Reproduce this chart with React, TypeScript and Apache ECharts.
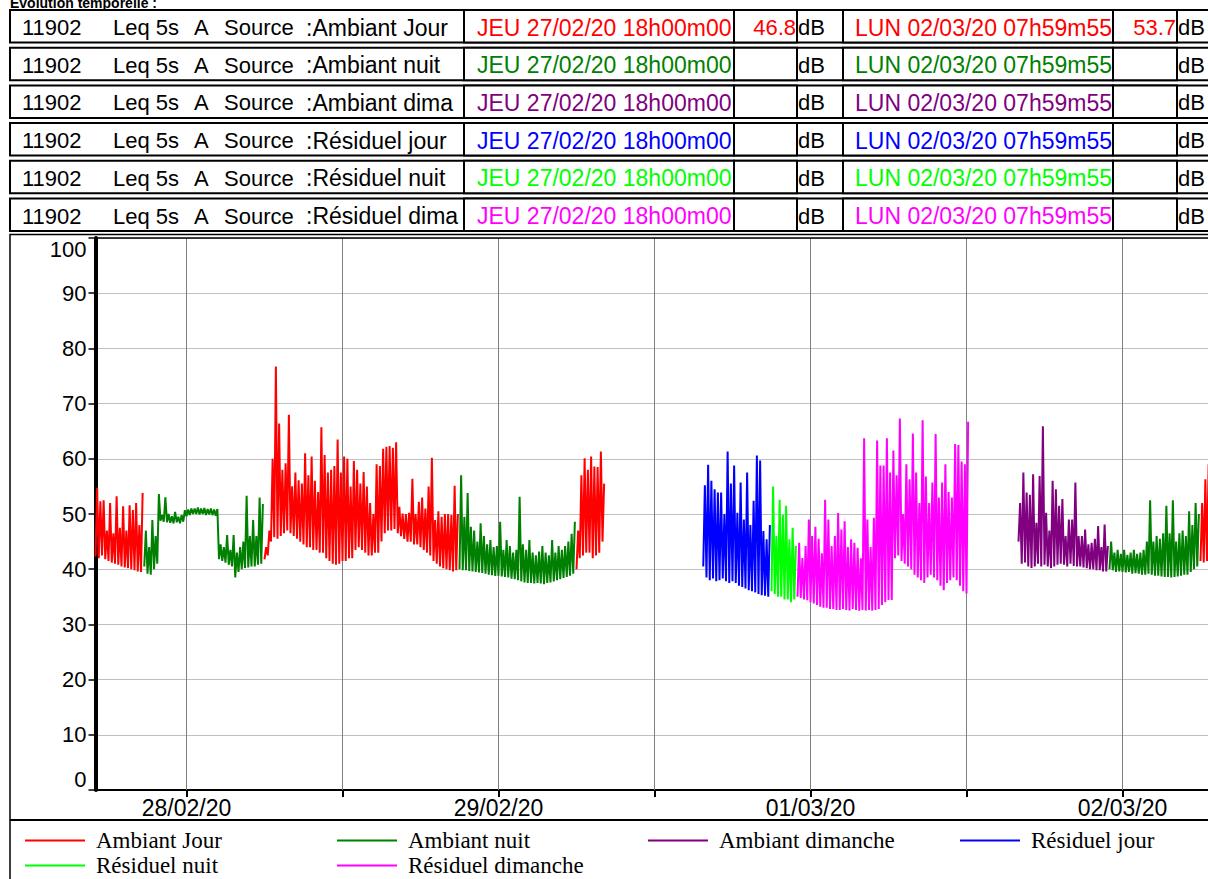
import React, { useEffect, useRef } from 'react';
import * as echarts from 'echarts';

// ---------- DATA ----------
// x = hours since JEU 27/02/20 18h00m00 ; bins of 15 min, each bin: lowest then highest level (dB(A))
const BIN_HOURS = 0.25;
const X_MAX_HOURS = 86;

const SERIES_NAMES = ['Ambiant Jour', 'Ambiant nuit', 'Ambiant dimanche', 'Résiduel jour', 'Résiduel nuit', 'Résiduel dimanche'];
const SERIES_COLORS = ['#FF0000', '#008000', '#800080', '#0000FF', '#00FF00', '#FF00FF'];

// Ambiant Jour, 27/02 18h00 -> 21h45
const jour1Low = [42.3, 42.0, 42.5, 41.8, 41.5, 41.2, 41.0, 40.8, 40.5, 40.3, 40.2, 40.0, 39.8, 39.6, 39.5];
const jour1High = [54.7, 52.3, 52.5, 47, 52, 46.5, 53.2, 47.5, 51.4, 47, 51.6, 50.7, 52, 48, 53.8];
// Ambiant nuit, 27/02 21h45 -> 28/02 07h00
const nuit1Low = [40.5, 39.2, 39, 40, 41, 48.8, 48.6, 48.5, 48.4, 48.3, 48.5, 48.3, 48.6, 49.6, 49.8, 50, 50, 49.9, 50, 49.8, 49.9, 49.8, 49.7, 41.8, 41.5, 41.2, 40.8, 40.5, 38.5, 39.5, 40, 40.2, 40.3, 40.5, 40.5, 40.8, 41];
const nuit1High = [47, 44, 48.9, 46, 53.6, 49.8, 53, 50, 49.6, 50.4, 49.5, 49.8, 50.7, 50.8, 51, 51, 51.2, 51, 51.1, 50.9, 51, 50.8, 50.9, 44.5, 44, 46.2, 43.5, 46.2, 43, 44, 45, 53.3, 46, 48.9, 46, 53, 51.8];
// Ambiant Jour, 28/02 07h00 -> 22h00
const jour2Low = [41.8, 42.5, 45, 45.8, 45.5, 46, 46.5, 47, 46.5, 46, 45.5, 45, 44.5, 44, 44, 43.5, 43.5, 43, 43, 42, 41.5, 41, 40.8, 41, 41.5, 41.5, 42, 42, 43.5, 44, 43.5, 43, 42.5, 42.5, 43, 43, 45, 46.5, 47, 47, 47.3, 46.5, 46, 45.5, 45, 45, 44.5, 44.5, 44, 43.5, 43, 42.5, 41.5, 41, 40.5, 40.2, 40, 39.8, 39.6, 39.8];
const jour2High = [44, 47, 60, 76.7, 66.4, 58, 59.2, 68, 55, 57.5, 56.1, 55.5, 61, 57, 60.4, 56, 54, 65.7, 60.7, 57.5, 58, 58.7, 63.5, 57.5, 60.4, 60, 55, 59.6, 58, 55.5, 57.6, 55, 52, 50, 59, 58.7, 61.8, 62.2, 62.3, 62, 63, 51.3, 50.1, 50, 50.2, 56.4, 50, 52.2, 53, 51, 55, 60.2, 48.9, 50.5, 49.5, 50, 50, 49.8, 55.1, 50];
// Ambiant nuit, 28/02 22h00 -> 29/02 07h00
const nuit2Low = [40, 39.8, 39.8, 39.7, 39.6, 39.5, 39.4, 39.3, 39.2, 39, 38.9, 38.8, 38.8, 38.7, 38.6, 38.5, 38.3, 38.2, 38, 37.8, 37.6, 37.5, 37.5, 37.4, 37.5, 37.4, 37.3, 37.5, 37.6, 37.8, 38, 38.2, 38.4, 38.6, 38.8, 39.2];
const nuit2High = [57, 49.5, 53.8, 47.7, 47, 45, 48.3, 46, 44.5, 45.3, 44, 44.2, 48.6, 43.5, 45.3, 44.2, 43, 43.5, 53.1, 44.5, 43.5, 45.3, 43, 42.5, 43.2, 44.2, 43, 42.5, 45.3, 43, 44.2, 43.5, 44.2, 45, 46.4, 48.6];
// Ambiant Jour, 29/02 07h00 -> 09h15
const jour3Low = [40, 42, 42.5, 43, 43, 42, 42.5, 43, 45];
const jour3High = [47, 57, 60.1, 58, 60.4, 58.6, 58.5, 61.3, 55.5];
// Résiduel jour, 29/02 16h45 -> 22h00
const resJourLow = [40.5, 38.5, 38, 38.3, 37.8, 38, 38.3, 37.8, 37.5, 37.8, 37.5, 37, 36.8, 36.5, 36.2, 36, 35.8, 35.5, 35.3, 35.2, 35];
const resJourHigh = [55.2, 58.9, 56, 54.5, 53.9, 53.9, 50, 61.3, 55.5, 58.8, 50.2, 55.7, 49, 57.5, 48, 52.4, 60.6, 59.7, 46.9, 45.4, 48];
// Résiduel nuit, 29/02 22h00 -> 01/03 00h00
const resNuitLow = [36, 35.5, 35, 35, 34.5, 34.5, 34, 34.5];
const resNuitHigh = [55, 46, 52.6, 49.8, 51.5, 45.4, 47.5, 44.2];
// Résiduel dimanche, 01/03 00h00 -> 13h15
const resDimLow = [35, 34.8, 34.5, 34.4, 34, 33.8, 33.5, 33.2, 33, 33, 32.8, 32.8, 32.6, 32.6, 32.8, 32.6, 32.5, 32.8, 32.6, 32.5, 32.6, 32.5, 32.6, 32.5, 32.6, 32.8, 33.5, 34, 34.4, 34.4, 42, 42.5, 41.5, 41, 40.5, 40, 39, 38.5, 38, 37.5, 38.5, 39, 38.5, 38, 37, 36.2, 37.5, 38, 38.5, 38, 37, 36, 35.6];
const resDimHigh = [44.8, 42, 44.2, 49, 46, 47.7, 45.5, 42.9, 52.6, 49, 44.2, 46, 50.2, 47.2, 48.7, 44, 45.4, 44.8, 43.9, 42, 63.7, 49, 44, 49.3, 63.3, 58.8, 58.8, 63.7, 57.5, 61.5, 57, 67.3, 50, 59, 56.3, 64.6, 57.5, 52, 67, 56.8, 52, 55.7, 64.5, 53, 55.7, 59, 54, 53, 62.7, 62.5, 59.5, 59, 66.7];
// Ambiant dimanche, 01/03 17h00 -> 02/03 00h00
const ambDimLow = [45, 41, 41.2, 40.5, 40.2, 40.5, 41, 40.5, 40.8, 40.5, 40.2, 40.5, 40.8, 41, 40.8, 40.5, 41, 40.6, 40.5, 40.5, 40.3, 40.2, 40, 40, 39.8, 39.8, 39.6, 39.6];
const ambDimHigh = [52, 57.5, 53.9, 53.5, 57.2, 48.4, 56.9, 65.9, 50.2, 47, 56, 54.5, 51.5, 52.7, 46, 49, 49, 55.7, 46, 46, 47.2, 44.5, 44.8, 45.5, 47.8, 44, 48.1, 44.2];
// Ambiant nuit, 02/03 00h00 -> 07h00
const nuit3Low = [40, 39.8, 39.5, 39.6, 39.5, 39.4, 39.5, 39.2, 39.3, 39.2, 39, 39, 39.2, 39, 38.8, 38.8, 38.7, 38.6, 38.6, 38.5, 38.6, 38.7, 38.8, 39, 39, 39.5, 40, 40.5];
const nuit3High = [45, 43, 43.5, 42.8, 43.5, 42.6, 43, 43.5, 42.8, 43, 43.5, 45, 52.5, 45, 46, 45.5, 46.5, 51.5, 46.5, 52.5, 45, 46.5, 47, 46, 50.5, 48, 52, 50];
// Ambiant Jour, 02/03 07h00 -> 08h00
const jour4Low = [41.5, 41.2, 41.5, 42];
const jour4High = [52, 56.3, 59, 58];

const SEGMENTS = [
  { series: 0, start: 0, low: jour1Low, high: jour1High },
  { series: 1, start: 3.75, low: nuit1Low, high: nuit1High },
  { series: 0, start: 13, low: jour2Low, high: jour2High },
  { series: 1, start: 28, low: nuit2Low, high: nuit2High },
  { series: 0, start: 37, low: jour3Low, high: jour3High },
  { series: 3, start: 46.75, low: resJourLow, high: resJourHigh },
  { series: 4, start: 52, low: resNuitLow, high: resNuitHigh },
  { series: 5, start: 54, low: resDimLow, high: resDimHigh },
  { series: 2, start: 71, low: ambDimLow, high: ambDimHigh },
  { series: 1, start: 78, low: nuit3Low, high: nuit3High },
  { series: 0, start: 85, low: jour4Low, high: jour4High },
];

const Y_MIN = 0;
const Y_MAX = 100;
const Y_STEP = 10;
const TICK_HOURS = [7, 19, 31, 43, 55, 67, 79];
const LABEL_HOURS = [7, 31, 55, 79];
const LABEL_TEXTS = ['28/02/20', '29/02/20', '01/03/20', '02/03/20'];

// header table
const TITLE = 'Evolution temporelle :';
const ROW_ID = '11902';
const ROW_METRIC = 'Leq 5s';
const ROW_WEIGHT = 'A';
const ROW_SOURCE_PREFIX = 'Source';
const ROW_SOURCES = ['Ambiant Jour', 'Ambiant nuit', 'Ambiant dimanche', 'Résiduel jour', 'Résiduel nuit', 'Résiduel dimanche'];
const START_TEXT = 'JEU 27/02/20 18h00m00';
const END_TEXT = 'LUN 02/03/20 07h59m55';
const START_VALUES = ['46.8', '', '', '', '', ''];
const END_VALUES = ['53.7', '', '', '', '', ''];
const UNIT = 'dB';

// ---------- BUILD ----------
function buildData(idx: number) {
  const out: any[] = [];
  SEGMENTS.filter((s) => s.series === idx).forEach((s) => {
    s.low.forEach((lo, i) => {
      const t = s.start + i * BIN_HOURS;
      out.push([t, lo]);
      out.push([t + BIN_HOURS / 2, s.high[i]]);
    });
    out.push([s.start + s.low.length * BIN_HOURS, null]);
  });
  return out;
}

const SANS = '"Liberation Sans", Arial, sans-serif';
const SERIF = '"Liberation Serif", "Times New Roman", serif';

function txt(text: string, x: number, y: number, opts: any = {}) {
  const style: any = {
    text,
    fill: opts.fill || '#000',
    fontSize: opts.fontSize || 22,
    fontFamily: opts.fontFamily || SANS,
    fontWeight: opts.fontWeight || 'normal',
    align: opts.align || 'left',
    textAlign: opts.align || 'left',
    verticalAlign: opts.verticalAlign || 'middle',
    textVerticalAlign: opts.verticalAlign || 'middle',
  };
  if (opts.width) {
    style.width = opts.width;
    style.overflow = 'truncate';
    style.ellipsis = '';
  }
  return { type: 'text', x, y, silent: true, style };
}

function rect(x: number, y: number, w: number, h: number, lw = 2, fill = '#fff') {
  return {
    type: 'rect',
    silent: true,
    shape: { x, y, width: w, height: h },
    style: { fill, stroke: '#000', lineWidth: lw },
  };
}

function buildGraphic() {
  const els: any[] = [];
  els.push(txt(TITLE, 10, 9.5, { fontSize: 14, fontWeight: 'bold', verticalAlign: 'bottom' }));
  ROW_SOURCES.forEach((src, i) => {
    const top = 10 + 37.7 * i;
    const cy = top + 17.5;
    const color = SERIES_COLORS[i];
    els.push(rect(10, top, 1240, 32.5));
    els.push(txt(ROW_ID, 22, cy));
    els.push(txt(ROW_METRIC, 113, cy));
    els.push(txt(ROW_WEIGHT, 194, cy));
    els.push(txt(ROW_SOURCE_PREFIX, 224, cy));
    els.push(txt(':' + src, 306, cy, { fontSize: 23, width: 156 }));
    els.push(rect(464, top, 270, 32.5));
    els.push(txt(START_TEXT, 477, cy, { fill: color, fontSize: 23 }));
    els.push(rect(734, top, 63, 32.5));
    els.push(txt(START_VALUES[i], 796, cy, { fill: color, align: 'right' }));
    els.push(txt(UNIT, 798, cy));
    els.push(rect(843, top, 270, 32.5));
    els.push(txt(END_TEXT, 855, cy, { fill: color, fontSize: 23 }));
    els.push(rect(1113, top, 64, 32.5));
    els.push(txt(END_VALUES[i], 1176, cy, { fill: color, align: 'right' }));
    els.push(txt(UNIT, 1178, cy));
  });
  // chart panel frame
  els.push(rect(10, 234.5, 1240, 700, 1.5, 'transparent'));
  els.push({ type: 'line', silent: true, shape: { x1: 10, y1: 820, x2: 1250, y2: 820 }, style: { stroke: '#000', lineWidth: 2 } });
  return els;
}

const LEG_X = [25, 337, 648, 960];
const LEG_Y = [829, 854];

export default function App() {
  const ref = useRef<HTMLDivElement>(null);
  useEffect(() => {
    if (!ref.current) return;
    const chart = echarts.init(ref.current, undefined, { renderer: 'svg' });
    const series: any[] = SERIES_NAMES.map((name, i) => ({
      name,
      type: 'line',
      data: buildData(i),
      showSymbol: false,
      symbol: 'none',
      color: SERIES_COLORS[i],
      lineStyle: { color: SERIES_COLORS[i], width: 2 },
      connectNulls: false,
      silent: true,
      z: 2,
      ...(i === 0
        ? {
            markLine: {
              z: 1,
              silent: true,
              symbol: ['none', 'none'],
              label: { show: false },
              animation: false,
              data: [
                ...TICK_HOURS.map((h) => ({ xAxis: h, lineStyle: { color: '#808080', width: 1, type: 'solid' } })),
                { yAxis: Y_MAX, lineStyle: { color: '#000', width: 1.5, type: 'solid' } },
              ],
            },
          }
        : {}),
    }));
    const option: any = {
      animation: false,
      backgroundColor: '#fff',
      grid: { left: 95.5, top: 238, width: X_MAX_HOURS * 13, height: 552, containLabel: false },
      xAxis: {
        type: 'value',
        min: 0,
        max: X_MAX_HOURS,
        axisLine: { show: true, onZero: false, lineStyle: { color: '#000', width: 2 } },
        axisTick: { show: true, length: 7, inside: false, lineStyle: { color: '#000', width: 2 }, customValues: TICK_HOURS },
        axisLabel: {
          customValues: LABEL_HOURS,
          formatter: (v: number) => {
            const k = LABEL_HOURS.indexOf(v);
            return k >= 0 ? LABEL_TEXTS[k] : '';
          },
          fontSize: 23,
          fontFamily: SANS,
          color: '#000',
          margin: 6,
        },
        splitLine: { show: false },
      },
      yAxis: {
        type: 'value',
        min: Y_MIN,
        max: Y_MAX,
        interval: Y_STEP,
        axisLine: { show: true, lineStyle: { color: '#000', width: 4 } },
        axisTick: { show: true, length: 7, lineStyle: { color: '#000', width: 1.5 } },
        axisLabel: {
          fontSize: 22,
          fontFamily: SANS,
          color: '#000',
          margin: 9,
          verticalAlignMaxLabel: 'top',
          verticalAlignMinLabel: 'bottom',
        },
        splitLine: { show: true, lineStyle: { color: '#808080', width: 1, type: 'dotted' } },
      },
      legend: SERIES_NAMES.map((name, i) => ({
        data: [name],
        left: LEG_X[i % 4],
        top: LEG_Y[Math.floor(i / 4)],
        padding: 0,
        icon: 'rect',
        itemWidth: 60,
        itemHeight: 2,
        selectedMode: false,
        textStyle: { fontFamily: SERIF, fontSize: 23, color: '#000', padding: [0, 0, 0, 6] },
      })),
      graphic: { elements: buildGraphic() },
      series,
    };
    chart.setOption(option);
    return () => chart.dispose();
  }, []);
  return (
    <div style={{ position: 'fixed', left: 0, top: 0, width: 1208, height: 879, overflow: 'hidden', background: '#fff' }}>
      <div ref={ref} style={{ width: 1250, height: 879 }} />
    </div>
  );
}
